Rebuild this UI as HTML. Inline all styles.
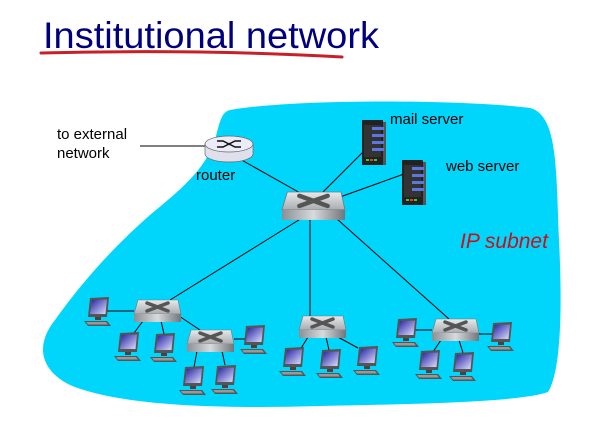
<!DOCTYPE html>
<html><head><style>
body{margin:0;width:601px;height:422px;background:#fff;overflow:hidden}
svg{display:block}
</style></head><body>
<svg width="601" height="422" viewBox="0 0 601 422" xmlns="http://www.w3.org/2000/svg" font-family="Liberation Sans, sans-serif">
<defs>
<linearGradient id="scr" x1="0" y1="0" x2="1" y2="1"><stop offset="0" stop-color="#2020a0"/><stop offset="1" stop-color="#e0e0ff"/></linearGradient>
<linearGradient id="sw" x1="0" y1="0" x2="0" y2="1"><stop offset="0" stop-color="#e8eaec"/><stop offset="1" stop-color="#a8acb0"/></linearGradient>
<linearGradient id="sws" x1="0" y1="0" x2="1" y2="0"><stop offset="0" stop-color="#8a9096"/><stop offset="0.5" stop-color="#d8dadc"/><stop offset="1" stop-color="#70767c"/></linearGradient>
<g id="pc">
<path d="M3,0 L22,-1 L20,19 L1,19 Z" fill="#555"/>
<path d="M5,2 L20,1.5 L18.5,16 L3,16 Z" fill="url(#scr)"/>
<rect x="8" y="19" width="6" height="3" fill="#444"/>
<path d="M-3,23 L20,23 L24,28 L1,28 Z" fill="#555"/>
<path d="M-1,24 L19,24 L21,26.5 L1,26.5 Z" fill="#999"/>
</g>
<g id="sw1">
<path d="M4,0 L44,0 L47,14 L0,14 Z" fill="url(#sw)" stroke="#777" stroke-width="0.6"/>
<rect x="0" y="14" width="47" height="8" fill="url(#sws)"/>
<path d="M13,3 L34,11 M34,3 L13,11" stroke="#555" stroke-width="3.5" stroke-linecap="round"/>
</g>
<g id="srv">
<rect x="0" y="0" width="21" height="45" fill="#222"/>
<rect x="21" y="2" width="3" height="43" fill="#555"/>
<rect x="2" y="5" width="17" height="32" fill="#333"/>
<rect x="10" y="7" width="12" height="3" fill="#5a78e0"/>
<rect x="10" y="14" width="12" height="3" fill="#5a78e0"/>
<rect x="10" y="21" width="12" height="3" fill="#5a78e0"/>
<rect x="10" y="28" width="12" height="3" fill="#5a78e0"/>
<rect x="4" y="39" width="3" height="2" fill="#3c3"/><rect x="8" y="39" width="3" height="2" fill="#e33"/><rect x="12" y="39" width="3" height="2" fill="#3c3"/>
</g>
</defs>
<text x="43" y="48" font-size="37" fill="#00007f" font-family="Liberation Sans, sans-serif" textLength="336" lengthAdjust="spacingAndGlyphs">Institutional network</text>
<path d="M41,53 Q200,49 342,57" stroke="#c8202a" stroke-width="3" fill="none" stroke-linecap="round"/>
<path d="M230,110 C300,98 470,100 530,108 C558,115 556,170 559,240 C562,300 562,370 548,392 C520,402 420,404 320,406 C220,409 120,406 70,385 C40,370 35,345 55,320 C80,285 110,250 150,215 C180,190 205,170 215,140 C220,120 222,112 230,110 Z" fill="#00d6fc"/>
<g stroke="#000" stroke-width="1" fill="none">
<line x1="140" y1="146" x2="206" y2="146"/>
<line x1="238" y1="158" x2="302" y2="194"/>
<line x1="322" y1="193" x2="367" y2="148"/>
<line x1="340" y1="197" x2="404" y2="174"/>
<line x1="302" y1="218" x2="170" y2="300"/>
<line x1="310" y1="220" x2="310" y2="316"/>
<line x1="337" y1="219" x2="449" y2="319"/>
<line x1="134" y1="311" x2="106" y2="311"/>
<line x1="143" y1="321" x2="134" y2="333"/>
<line x1="161" y1="321" x2="164" y2="334"/>
<line x1="179" y1="316" x2="200" y2="330"/>
<line x1="234" y1="339" x2="245" y2="339"/>
<line x1="197" y1="351" x2="194" y2="367"/>
<line x1="222" y1="351" x2="225" y2="365"/>
<line x1="308" y1="337" x2="300" y2="350"/>
<line x1="326" y1="337" x2="329" y2="350"/>
<line x1="336" y1="336" x2="358" y2="348"/>
<line x1="432" y1="330" x2="414" y2="330"/>
<line x1="441" y1="340" x2="433" y2="352"/>
<line x1="459" y1="340" x2="463" y2="353"/>
<line x1="479" y1="334" x2="492" y2="334"/>
</g>
<path d="M205,144 L205,154 A24,8 0 0 0 253,154 L253,144 Z" fill="#e0e0ec" stroke="#666" stroke-width="0.7"/>
<ellipse cx="229" cy="144" rx="24" ry="8" fill="#ececf8" stroke="#666" stroke-width="0.7"/>
<path d="M217,141 L223,141 L235,147 L241,147 M217,147 L223,147 L235,141 L241,141" stroke="#111" stroke-width="1.5" fill="none"/>
<use href="#sw1" transform="translate(282,192) scale(1.34,1.27)"/>
<use href="#srv" x="362" y="120"/>
<use href="#srv" x="402" y="160"/>
<use href="#sw1" x="134" y="300"/>
<use href="#sw1" x="187" y="330"/>
<use href="#sw1" x="299" y="316"/>
<use href="#sw1" x="432" y="319"/>
<use href="#pc" x="87" y="298"/>
<use href="#pc" x="117" y="333"/>
<use href="#pc" x="153" y="334"/>
<use href="#pc" x="182" y="367"/>
<use href="#pc" x="214" y="366"/>
<use href="#pc" x="243" y="326"/>
<use href="#pc" x="282" y="348"/>
<use href="#pc" x="319" y="350"/>
<use href="#pc" x="356" y="347"/>
<use href="#pc" x="395" y="319"/>
<use href="#pc" x="418" y="351"/>
<use href="#pc" x="452" y="353"/>
<use href="#pc" x="490" y="323"/>
<g font-size="15" fill="#000">
<text x="57" y="139">to external</text>
<text x="57" y="158">network</text>
<text x="196" y="180">router</text>
<text x="390" y="124">mail server</text>
<text x="446" y="171">web server</text>
</g>
<text x="460" y="248" font-size="21" font-style="italic" fill="#c8101a">IP subnet</text>
</svg>
</body></html>
